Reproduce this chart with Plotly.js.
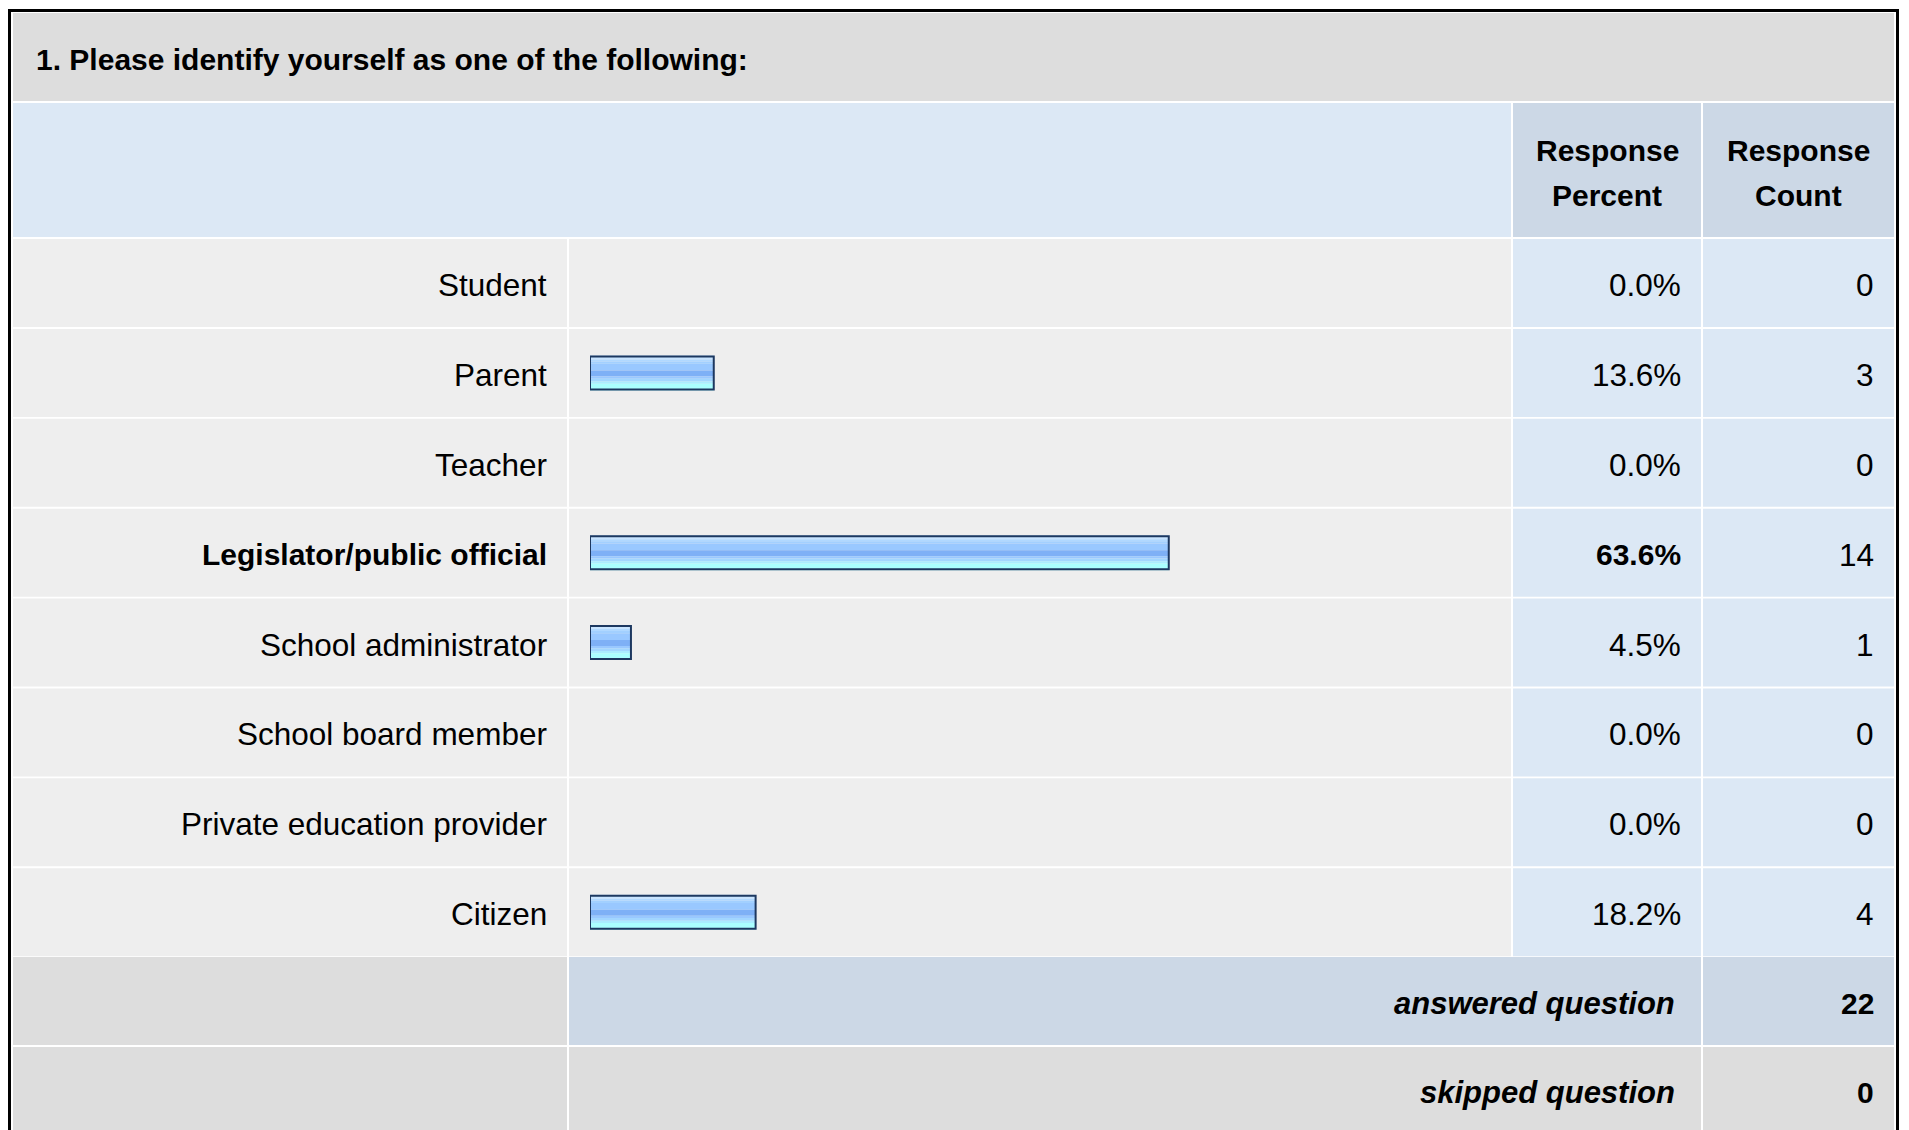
<!DOCTYPE html>
<html>
<head>
<meta charset="utf-8">
<script src="https://cdn.plot.ly/plotly-3.0.1.min.js"></script>
<style>
  html, body { margin: 0; padding: 0; background: #ffffff; }
  #chart { width: 1909px; height: 1130px; }
</style>
</head>
<body>
<div id="chart"></div>
<script>
// ---------------- data ----------------
const questionTitle = '1. Please identify yourself as one of the following:';
const categories = [
  'Student',
  'Parent',
  'Teacher',
  'Legislator/public official',
  'School administrator',
  'School board member',
  'Private education provider',
  'Citizen'
];
const responsePercent = [0.0, 13.6, 0.0, 63.6, 4.5, 0.0, 0.0, 18.2];
const responseCount = [0, 3, 0, 14, 1, 0, 0, 4];
const headerPercent = ['Response', 'Percent'];
const headerCount = ['Response', 'Count'];
const footerLabels = ['answered question', 'skipped question'];
const footerCounts = [22, 0];

// ---------------- layout constants ----------------
const W = 1909, H = 1130;
const ROW0 = 283;        // pixel centre of first answer row
const PITCH = 89.875;    // row pitch in pixels
const FONT = 'Arial, "Liberation Sans", Helvetica, sans-serif';
const FS_B = 30;         // bold text
const FS_R = 31.5;       // regular text
const FS_BI = 31;        // bold italic footer text
const TY = 2;            // text vertical nudge (px, downwards)

const C_TITLE = '#dddddd';
const C_HEAD = '#dce8f5';
const C_HEADCELL = '#ccd8e6';
const C_ROW = '#eeeeee';
const C_NUMCELL = '#dce8f5';
const C_FOOT = '#dddddd';
const C_FOOTMID = '#ccd8e6';

const X_LABEL = 549, X_PCT = 1683, X_CNT = 1876, X_FOOT = 1677;

function px(x) { return x / W; }
function py(y) { return 1 - y / H; }
function rect(x0, y0, x1, y1, color) {
  return { type: 'rect', xref: 'paper', yref: 'paper', layer: 'below',
    x0: px(x0), x1: px(x1), y0: py(y1), y1: py(y0),
    fillcolor: color, line: { width: 0 } };
}

const shapes = [];
shapes.push(rect(8, 9, 1899, H + 10, '#000000'));
shapes.push(rect(11, 12, 1896, H + 10, '#ffffff'));
shapes.push(rect(13, 13, 1894, 101, C_TITLE));
shapes.push(rect(13, 103, 1511, 237, C_HEAD));
shapes.push(rect(1513, 103, 1701, 237, C_HEADCELL));
shapes.push(rect(1703, 103, 1894, 237, C_HEADCELL));
for (let i = 0; i < categories.length; i++) {
  const t = ROW0 - 44 + i * PITCH, b = ROW0 + 44 + i * PITCH;
  shapes.push(rect(13, t, 567, b, C_ROW));
  shapes.push(rect(569, t, 1511, b, C_ROW));
  shapes.push(rect(1513, t, 1701, b, C_NUMCELL));
  shapes.push(rect(1703, t, 1894, b, C_NUMCELL));
}
const ansTop = 957, ansBot = 1045, skTop = 1047, skBot = H + 10;
shapes.push(rect(13, ansTop, 567, ansBot, C_FOOT));
shapes.push(rect(569, ansTop, 1701, ansBot, C_FOOTMID));
shapes.push(rect(1703, ansTop, 1894, ansBot, C_FOOTMID));
shapes.push(rect(13, skTop, 567, skBot, C_FOOT));
shapes.push(rect(569, skTop, 1701, skBot, C_FOOT));
shapes.push(rect(1703, skTop, 1894, skBot, C_FOOT));

// ---------------- annotations ----------------
const annotations = [];
function ann(text, x, y, xanchor, size) {
  return {
    text: text, x: px(x), xref: 'paper', y: py(y), yref: 'paper',
    xanchor: xanchor, yanchor: 'middle', showarrow: false,
    font: { family: FONT, size: size, color: '#000000' }, yshift: -TY
  };
}
annotations.push(ann('<b>' + questionTitle + '</b>', 34, 57, 'left', FS_B));
annotations.push(ann('<b>' + headerPercent[0] + '</b>', 1607, 148, 'center', FS_B));
annotations.push(ann('<b>' + headerPercent[1] + '</b>', 1607, 194, 'center', FS_B));
annotations.push(ann('<b>' + headerCount[0] + '</b>', 1798, 148, 'center', FS_B));
annotations.push(ann('<b>' + headerCount[1] + '</b>', 1798, 194, 'center', FS_B));

const maxPct = Math.max.apply(null, responsePercent);
categories.forEach(function (c, i) {
  const top = responsePercent[i] === maxPct;
  function cell(text, x, bold) {
    return { xref: 'paper', yref: 'y', y: c, yanchor: 'middle', showarrow: false,
      x: px(x), xanchor: 'right', yshift: -TY,
      text: bold ? '<b>' + text + '</b>' : text,
      font: { family: FONT, size: bold ? FS_B : FS_R, color: '#000000' } };
  }
  annotations.push(cell(c, X_LABEL, top));
  annotations.push(cell(responsePercent[i].toFixed(1) + '%', X_PCT, top));
  annotations.push(cell(String(responseCount[i]), X_CNT, false));
});
annotations.push(ann('<b><i>' + footerLabels[0] + '</i></b>', X_FOOT, (ansTop + ansBot) / 2, 'right', FS_BI));
annotations.push(ann('<b>' + footerCounts[0] + '</b>', X_CNT, (ansTop + ansBot) / 2, 'right', FS_B));
annotations.push(ann('<b><i>' + footerLabels[1] + '</i></b>', X_FOOT, 1090, 'right', FS_BI));
annotations.push(ann('<b>' + footerCounts[1] + '</b>', X_CNT, 1090, 'right', FS_B));

// ---------------- bars (striped gradient look) ----------------
const BAR_H = 35;
const stripes = [
  { t: 0,    h: 4,   c: '#c8e4ff' },
  { t: 4,    h: 2,   c: '#b0d8ff' },
  { t: 6,    h: 2.3, c: '#a2d0ff' },
  { t: 8.3,  h: 6.7, c: '#99c8ff' },
  { t: 15,   h: 6,   c: '#7eb0f6' },
  { t: 21,   h: 2.3, c: '#99c8ff' },
  { t: 23.3, h: 2.7, c: '#a2d6ff' },
  { t: 26,   h: 2.3, c: '#aaecff' },
  { t: 28.3, h: 6.7, c: '#aaffff' }
];
const traces = stripes.map(function (s) {
  return {
    type: 'bar', orientation: 'h', y: categories, x: responsePercent,
    width: s.h / PITCH, offset: (s.t - BAR_H / 2) / PITCH,
    marker: { color: s.c, line: { width: 0 } },
    hoverinfo: 'skip', showlegend: false
  };
});
traces.push({
  type: 'bar', orientation: 'h', y: categories,
  x: responsePercent.map(function (v) { return v > 0 ? v : null; }),
  width: (BAR_H - 2) / PITCH, offset: -(BAR_H - 2) / 2 / PITCH,
  marker: { color: 'rgba(0,0,0,0)', line: { color: '#1d3860', width: 2 } },
  hoverinfo: 'skip', showlegend: false
});

const layout = {
  width: W, height: H,
  margin: { l: 0, r: 0, t: 0, b: 0, pad: 0 },
  paper_bgcolor: '#ffffff', plot_bgcolor: 'rgba(0,0,0,0)',
  barmode: 'overlay', showlegend: false,
  xaxis: { domain: [px(590), px(1500)], range: [0, 100], visible: false, fixedrange: true },
  yaxis: { domain: [0, 1], type: 'category', categoryorder: 'array', categoryarray: categories,
    range: [(H - ROW0) / PITCH, -ROW0 / PITCH], visible: false, fixedrange: true },
  shapes: shapes,
  annotations: annotations,
  hovermode: false
};

Plotly.newPlot('chart', traces, layout, { displayModeBar: false, staticPlot: true });
</script>
</body>
</html>
